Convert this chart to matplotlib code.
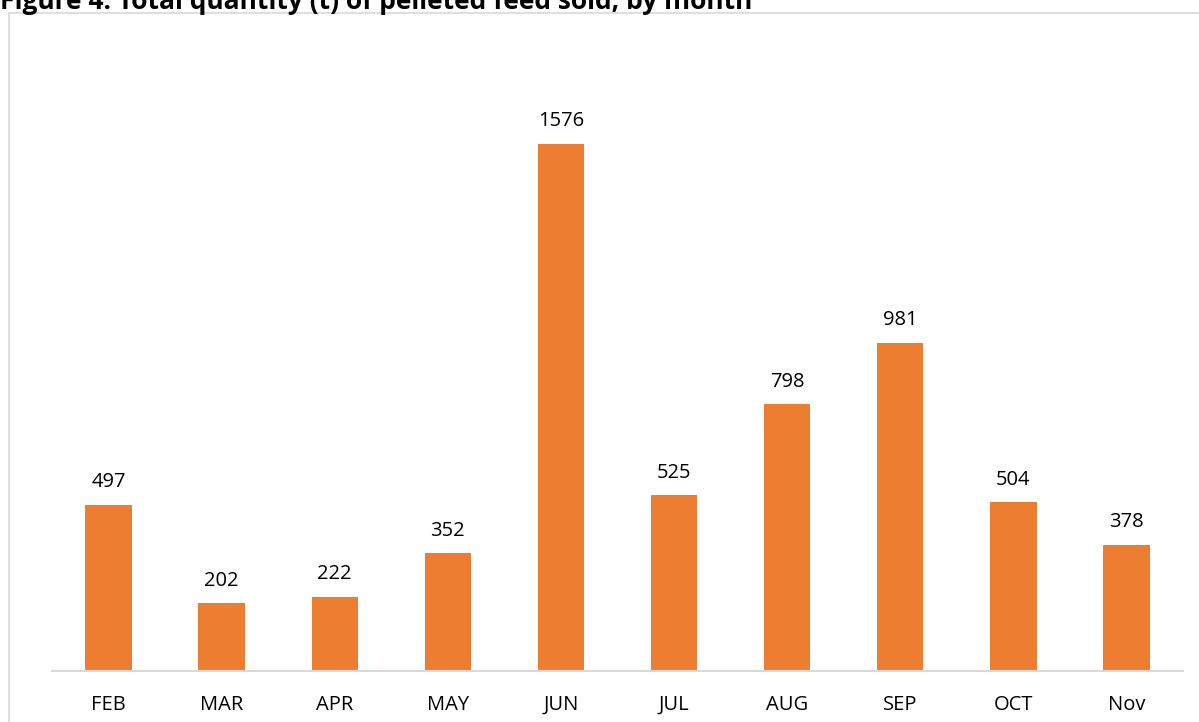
import matplotlib.pyplot as plt
from matplotlib.patches import Rectangle

months = ['FEB', 'MAR', 'APR', 'MAY', 'JUN', 'JUL', 'AUG', 'SEP', 'OCT', 'Nov']
tonnes = [497, 202, 222, 352, 1576, 525, 798, 981, 504, 378]

plt.rcParams['font.family'] = ['Open Sans', 'DejaVu Sans']

fig = plt.figure(figsize=(11.99, 7.22), dpi=100)
ax = fig.add_axes([52 / 1199, 51 / 722, 1131 / 1199, 602 / 722])

x = range(len(months))
bars = ax.bar(x, tonnes, width=0.41, color='#ED7D31')
ax.bar_label(bars, labels=[str(v) for v in tonnes], padding=9, fontsize=14.5)

ax.set_xlim(-0.5, len(months) - 0.5)
ax.set_ylim(0, 1800)
ax.set_xticks(list(x))
ax.set_xticklabels(months, fontsize=14.5)
ax.tick_params(axis='x', length=0, pad=17)
ax.set_yticks([])
for s in ['top', 'right', 'left']:
    ax.spines[s].set_visible(False)
ax.spines['bottom'].set_color('#d9d9d9')
ax.spines['bottom'].set_linewidth(1.5)

# chart frame
fig.patches.append(Rectangle((9 / 1199, -0.01), 1.0, (722 - 13) / 722 + 0.01,
                             transform=fig.transFigure, fill=False,
                             edgecolor='#d9d9d9', linewidth=1.2))

fig.text(0.0, 0.9985, 'Figure 4: Total quantity (t) of pelleted feed sold, by month',
         fontsize=19, fontweight='bold', va='center', ha='left')

fig.savefig('out.png', dpi=100)
